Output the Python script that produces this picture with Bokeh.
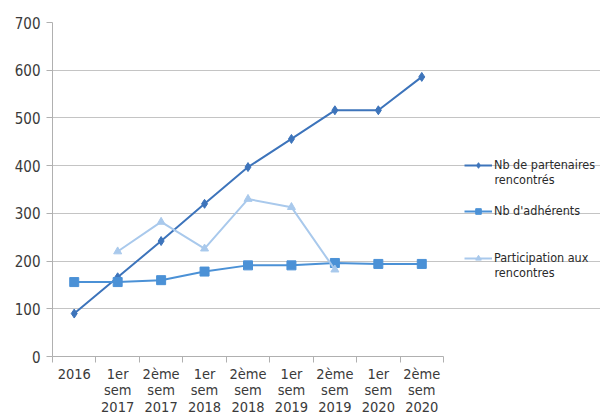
from bokeh.plotting import figure
from bokeh.models import Range1d, FixedTicker, Legend, LegendItem, Label
from bokeh.embed import file_html
from bokeh.resources import INLINE

categories = ["2016", "1er\nsem\n2017", "2ème\nsem\n2017", "1er\nsem\n2018", "2ème\nsem\n2018",
              "1er\nsem\n2019", "2ème\nsem\n2019", "1er\nsem\n2020", "2ème\nsem\n2020"]
partenaires = [90, 166, 242, 320, 397, 456, 516, 516, 586]
adherents = [156, 156, 160, 178, 191, 191, 196, 194, 194]
participation_idx = [1, 2, 3, 4, 5, 6]
participation = [220, 282, 226, 330, 313, 182]
y_ticks = [0, 100, 200, 300, 400, 500, 600, 700]
legend_first = ["Nb de partenaires", "Nb d'adhérents", "Participation aux"]
legend_second = ["rencontrés", "", "rencontres"]

FONT = "'Liberation Sans Narrow', 'DejaVu Sans Condensed', Roboto, sans-serif"
C1 = "#3d74bb"
C2 = "#4b91d6"
C3 = "#a9c9ec"

n = len(categories)
x_all = [i + 0.5 for i in range(n)]
x_part = [i + 0.5 for i in participation_idx]

PLOT_W = 391   # width of the category area in px
FRAME_W = 548  # frame extended to host the legend
p = figure(frame_width=FRAME_W, frame_height=334, output_backend="svg", toolbar_location=None,
           x_range=Range1d(0, n * FRAME_W / PLOT_W), y_range=Range1d(0, 700),
           min_border_left=52, min_border_right=0, min_border_top=22, min_border_bottom=0)
p.outline_line_color = None
p.background_fill_color = "white"

# x axis
p.xaxis.ticker = FixedTicker(ticks=x_all, minor_ticks=list(range(n + 1)))
p.xaxis.bounds = (0, n)
p.xaxis.major_label_overrides = {x: c for x, c in zip(x_all, categories)}
p.xaxis.major_tick_out = 0
p.xaxis.major_tick_in = 0
p.xaxis.minor_tick_out = 6
p.xaxis.minor_tick_in = 0
p.xaxis.minor_tick_line_color = "#b0b0b0"
p.xaxis.axis_line_color = "#b0b0b0"
p.xaxis.major_label_text_font = FONT
p.xaxis.major_label_text_font_size = "14.5px"
p.xaxis.major_label_text_color = "#3a3a3a"
p.xaxis.major_label_standoff = 3
p.xaxis.major_label_text_line_height = 1.05

# y axis
p.yaxis.ticker = FixedTicker(ticks=y_ticks)
p.yaxis.minor_tick_line_color = None
p.yaxis.major_tick_out = 6
p.yaxis.major_tick_in = 0
p.yaxis.major_tick_line_color = "#b0b0b0"
p.yaxis.axis_line_color = "#b0b0b0"
p.yaxis.major_label_text_font = FONT
p.yaxis.major_label_text_font_size = "15px"
p.yaxis.major_label_text_color = "#3a3a3a"
p.yaxis.major_label_standoff = 6

p.xgrid.grid_line_color = None
p.ygrid.ticker = FixedTicker(ticks=y_ticks)
p.ygrid.bounds = (0, n)
p.ygrid.grid_line_color = "#c4c4c4"
p.ygrid.grid_line_width = 1.2

l1 = p.line(x_all, partenaires, line_color=C1, line_width=2)
s1 = p.scatter(x_all, partenaires, marker="diamond", size=9, fill_color=C1, line_color=C1)
l2 = p.line(x_all, adherents, line_color=C2, line_width=2)
s2 = p.scatter(x_all, adherents, marker="square", size=9, fill_color=C2, line_color=C2)
l3 = p.line(x_part, participation, line_color=C3, line_width=2)
s3 = p.scatter(x_part, participation, marker="triangle", size=8, fill_color=C3, line_color=C3)

renderers = [[l1, s1], [l2, s2], [l3, s3]]
legend_y = [184, 138, 91]  # frame-relative, from bottom
for first, second, rend, ly in zip(legend_first, legend_second, renderers, legend_y):
    lg = Legend(items=[LegendItem(label=first, renderers=rend)], location=(412, ly))
    lg.label_text_font = FONT
    lg.label_text_font_size = "12.5px"
    lg.label_text_color = "#2a2a2a"
    lg.border_line_color = None
    lg.background_fill_alpha = 0
    lg.glyph_width = 28
    lg.glyph_height = 14
    lg.label_height = 14
    lg.label_standoff = 2
    lg.padding = 0
    lg.margin = 0
    p.add_layout(lg, "center")
    if second:
        p.add_layout(Label(x=442, y=ly - 14, x_units="screen", y_units="screen", text=second,
                           text_font=FONT, text_font_size="12.5px", text_color="#2a2a2a"), "center")

open("out.html", "w").write(file_html(p, INLINE))
